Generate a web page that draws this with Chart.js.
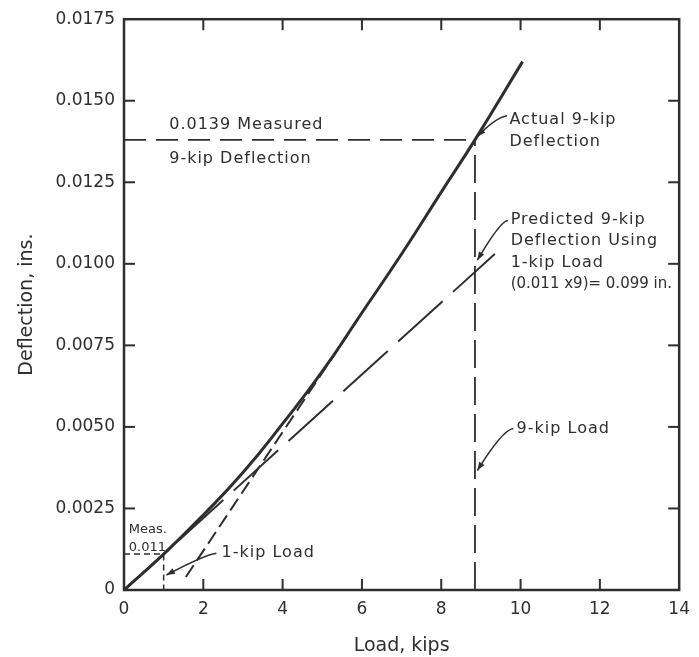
<!DOCTYPE html>
<html>
<head>
<meta charset="utf-8">
<script src="https://cdn.jsdelivr.net/npm/chart.js@4.4.1/dist/chart.umd.min.js"></script>
<style>
  html, body { margin: 0; padding: 0; background: #fff; }
  #chart { display: block; }
</style>
</head>
<body>
<canvas id="chart" width="699" height="657"></canvas>
<script>
// measured load-deflection curve
const loadKips = [0, 1, 2, 3, 4, 5, 6, 7, 8, 8.85, 10.05];
const deflection = [0, 0.0011, 0.0023, 0.0036, 0.0051, 0.0067, 0.0085, 0.0103, 0.0122, 0.0138, 0.0162];

// prediction from the 1-kip reading
const predictedLoad = [0, 9.35];
const predictedDefl = [0, 0.0103];

// steeper dashed line
const tangentLoad = [1.56, 5.9];
const tangentDefl = [0.0004, 0.0083];

// guide lines
const measuredLoad = [0, 8.85];
const measuredDefl = [0.0138, 0.0138];
const nineKipLoad = [8.85, 8.85];
const nineKipDefl = [0, 0.0138];
const oneKipLoad = [0, 1, 1];
const oneKipDefl = [0.0011, 0.0011, 0];

const xTicks = [0, 2, 4, 6, 8, 10, 12, 14];
const yTicks = [0, 0.0025, 0.005, 0.0075, 0.01, 0.0125, 0.015, 0.0175];

const INK = "#2e2e2e";
const FONT = "DejaVu Sans";

const pts = (xs, ys) => xs.map((v, i) => ({ x: v, y: ys[i] }));

const lineSet = (xs, ys, width, dash) => ({
  data: pts(xs, ys),
  borderColor: INK,
  borderWidth: width,
  borderDash: dash,
  pointRadius: 0,
  fill: false,
  tension: 0,
});

// text notes and leader arrows, placed in data units
const notes = [
  { lines: ["0.0139 Measured"], at: [1.14, 0.01426] },
  { lines: ["9-kip Deflection"], at: [1.14, 0.01322] },
  { lines: ["Actual 9-kip", "Deflection"], at: [9.72, 0.01441],
    arrow: [[9.66, 0.01454], [9.36, 0.01448], [8.91, 0.0139]] },
  { lines: ["Predicted 9-kip", "Deflection Using", "1-kip Load", "(0.011 x9)= 0.099 in."], at: [9.75, 0.01136],
    arrow: [[9.68, 0.01133], [9.48, 0.0113], [8.91, 0.01011]] },
  { lines: ["9-kip Load"], at: [9.9, 0.00495],
    arrow: [[9.82, 0.00495], [9.55, 0.00492], [8.91, 0.00366]] },
  { lines: ["1-kip Load"], at: [2.46, 0.00113],
    arrow: [[2.33, 0.00113], [2.01, 0.00107], [1.07, 0.00046]] },
  { lines: ["Meas.", "0.011"], at: [0.12, 0.00186], size: 13, gap: 18 },
];

const inkPlugin = {
  id: "ink",
  beforeDraw(chart) {
    const ctx = chart.ctx;
    ctx.save();
    ctx.fillStyle = "#fff";
    ctx.fillRect(0, 0, chart.width, chart.height);
    ctx.restore();
  },
  afterDatasetsDraw(chart) {
    const { ctx, chartArea: a, scales } = chart;
    const sx = scales.x, sy = scales.y;
    const seg = (x1, y1, x2, y2) => {
      ctx.beginPath();
      ctx.moveTo(x1, y1);
      ctx.lineTo(x2, y2);
      ctx.stroke();
    };
    ctx.save();
    ctx.strokeStyle = INK;
    ctx.fillStyle = INK;
    ctx.lineWidth = 2.5;
    ctx.strokeRect(a.left, a.top, a.right - a.left, a.bottom - a.top);

    // ticks point inward on all four sides
    ctx.lineWidth = 2;
    xTicks.slice(1, -1).forEach((v) => {
      const px = sx.getPixelForValue(v);
      seg(px, a.bottom, px, a.bottom - 11);
      seg(px, a.top, px, a.top + 11);
    });
    yTicks.slice(1, -1).forEach((v) => {
      const py = sy.getPixelForValue(v);
      seg(a.left, py, a.left + 11, py);
      seg(a.right, py, a.right - 11, py);
    });

    notes.forEach((n) => {
      const size = n.size || 16;
      const gap = n.gap || 21.5;
      ctx.textBaseline = "middle";
      ctx.textAlign = "left";
      const x0 = sx.getPixelForValue(n.at[0]);
      const y0 = sy.getPixelForValue(n.at[1]);
      n.lines.forEach((t, i) => {
        const long = t.length > 18;
        ctx.font = (long ? 15 : size) + "px '" + FONT + "'";
        ctx.letterSpacing = long || size < 16 ? "0px" : "1px";
        ctx.fillText(t, x0, y0 + i * gap);
      });
      ctx.letterSpacing = "0px";
      if (n.arrow) {
        const p = n.arrow.map((d) => [sx.getPixelForValue(d[0]), sy.getPixelForValue(d[1])]);
        ctx.lineWidth = 1.5;
        ctx.beginPath();
        ctx.moveTo(p[0][0], p[0][1]);
        ctx.quadraticCurveTo(p[1][0], p[1][1], p[2][0], p[2][1]);
        ctx.stroke();
        const ang = Math.atan2(p[2][1] - p[1][1], p[2][0] - p[1][0]);
        ctx.beginPath();
        ctx.moveTo(p[2][0], p[2][1]);
        ctx.lineTo(p[2][0] - 9 * Math.cos(ang - 0.35), p[2][1] - 9 * Math.sin(ang - 0.35));
        ctx.lineTo(p[2][0] - 9 * Math.cos(ang + 0.35), p[2][1] - 9 * Math.sin(ang + 0.35));
        ctx.closePath();
        ctx.fill();
      }
    });
    ctx.restore();
  },
};

Chart.defaults.font.family = FONT;
Chart.defaults.color = INK;

new Chart(document.getElementById("chart"), {
  type: "line",
  data: {
    datasets: [
      Object.assign(lineSet(loadKips, deflection, 3, []), { tension: 0.5 }),
      lineSet(predictedLoad, predictedDefl, 2, [60, 14]),
      lineSet(tangentLoad, tangentDefl, 2, [14, 6]),
      lineSet(measuredLoad, measuredDefl, 1.8, [22, 10]),
      lineSet(nineKipLoad, nineKipDefl, 1.8, [28, 9]),
      lineSet(oneKipLoad, oneKipDefl, 1.5, [6, 4]),
    ],
  },
  options: {
    responsive: false,
    animation: false,
    layout: { padding: { top: 17, right: 11, left: 0, bottom: 0 } },
    plugins: {
      legend: { display: false },
      tooltip: { enabled: false },
    },
    scales: {
      x: {
        type: "linear",
        min: 0,
        max: 14,
        afterBuildTicks: (s) => { s.ticks = xTicks.map((v) => ({ value: v })); },
        afterFit: (s) => { s.height = 67; },
        grid: { display: false, drawTicks: false },
        border: { display: false },
        ticks: { padding: 9, font: { size: 17 }, maxRotation: 0 },
        title: { display: true, text: "Load, kips", font: { size: 19 }, padding: { top: 0, bottom: 0 } },
      },
      y: {
        type: "linear",
        min: 0,
        max: 0.0175,
        afterBuildTicks: (s) => { s.ticks = yTicks.map((v) => ({ value: v })); },
        afterFit: (s) => { s.width = 124; },
        grid: { display: false, drawTicks: false },
        border: { display: false },
        ticks: {
          padding: 9,
          font: { size: 17 },
          callback: (v) => (v === 0 ? "0" : v.toFixed(4)),
        },
        title: { display: true, text: "Deflection, ins.", font: { size: 19 }, padding: { top: 16, bottom: 0 } },
      },
    },
  },
  plugins: [inkPlugin],
});
</script>
</body>
</html>
